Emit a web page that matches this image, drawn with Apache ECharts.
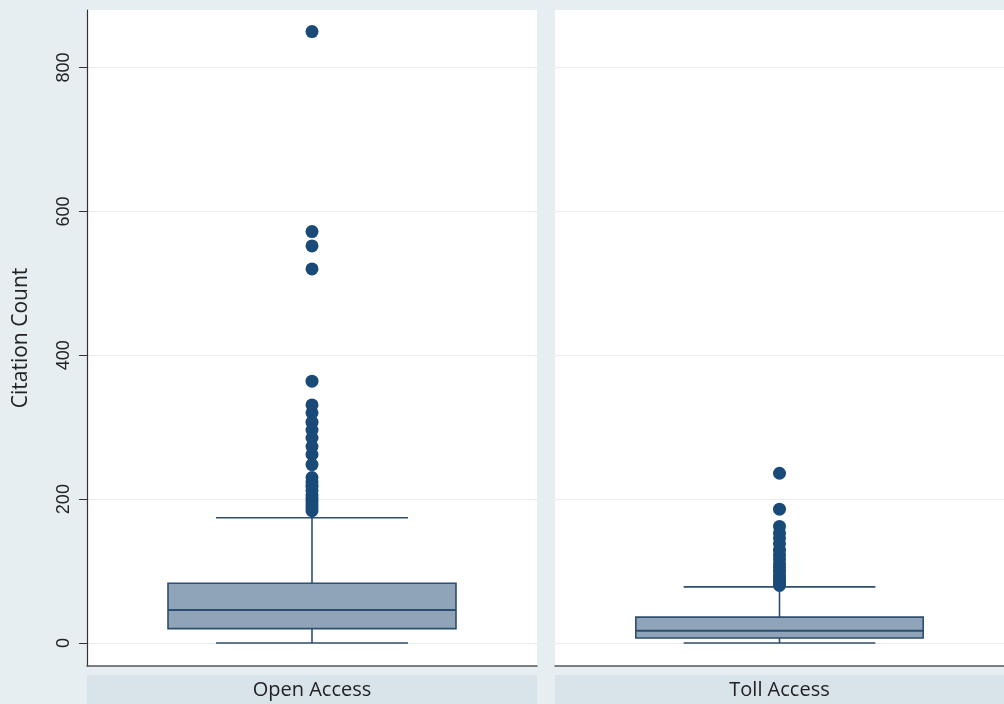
<!DOCTYPE html>
<html>
<head>
<meta charset="utf-8">
<script src="https://cdn.jsdelivr.net/npm/echarts@6/dist/echarts.min.js"></script>
<style>
  html, body { margin: 0; padding: 0; background: #e7eef1; }
  #chart { width: 1004px; height: 704px; }
</style>
</head>
<body>
<div id="chart"></div>
<script>
// categories (one per panel)
const categories = ['Open Access', 'Toll Access']
// box stats: [lower whisker, Q1, median, Q3, upper whisker]
const openBox = [0, 20, 46, 83, 174]
const tollBox = [0, 7, 17, 36, 78]
// outliers
const openOutliers = [850, 572, 552, 520, 364, 331, 320, 307, 296, 285, 273, 262, 248,
  230, 224, 218, 212, 206, 201, 196, 192, 188, 184]
const tollOutliers = [236, 186, 162, 153, 146, 138, 129, 122, 116, 110, 105, 100,
  95, 91, 87, 83, 80]
const yTicks = [0, 200, 400, 600, 800]

const boxFill = '#8fa4b9'
const boxLine = '#2d4e6e'
const dotColor = '#1a4a78'
const font = 'Liberation Sans'

const chart = echarts.init(document.getElementById('chart'))

// draws box, median, whiskers and shorter caps through the axis scales
const renderBox = (params, api) => {
  const x = api.value(0)
  const band = api.size([1, 0])[0]
  const boxW = band * 0.64
  const capW = boxW * 0.667
  const pMin = api.coord([x, api.value(1)])
  const pQ1 = api.coord([x, api.value(2)])
  const pMed = api.coord([x, api.value(3)])
  const pQ3 = api.coord([x, api.value(4)])
  const pMax = api.coord([x, api.value(5)])
  const cx = pMed[0]
  const lineStyle = { stroke: boxLine, lineWidth: 1.6 }
  return {
    type: 'group',
    children: [
      { type: 'line', shape: { x1: cx, y1: pQ3[1], x2: cx, y2: pMax[1] }, style: lineStyle },
      { type: 'line', shape: { x1: cx, y1: pQ1[1], x2: cx, y2: pMin[1] }, style: lineStyle },
      { type: 'line', shape: { x1: cx - capW / 2, y1: pMax[1], x2: cx + capW / 2, y2: pMax[1] }, style: lineStyle },
      { type: 'line', shape: { x1: cx - capW / 2, y1: pMin[1], x2: cx + capW / 2, y2: pMin[1] }, style: lineStyle },
      {
        type: 'rect',
        shape: { x: cx - boxW / 2, y: pQ3[1], width: boxW, height: pQ1[1] - pQ3[1] },
        style: { fill: boxFill, stroke: boxLine, lineWidth: 1.6 }
      },
      { type: 'line', shape: { x1: cx - boxW / 2, y1: pMed[1], x2: cx + boxW / 2, y2: pMed[1] }, style: { stroke: boxLine, lineWidth: 2 } }
    ]
  }
}

const makeY = (idx, showAxis) => ({
  type: 'value',
  gridIndex: idx,
  min: -32,
  max: 880,
  name: showAxis ? 'Citation Count' : '',
  nameLocation: 'middle',
  nameGap: 55,
  nameTextStyle: { fontFamily: 'Open Sans', fontSize: 21, color: '#222' },
  axisLine: { show: showAxis, lineStyle: { color: '#333', width: 1.2 } },
  axisTick: { show: showAxis, length: 8, customValues: yTicks, lineStyle: { color: '#333' } },
  axisLabel: {
    show: showAxis, rotate: 90, margin: 14, customValues: yTicks,
    fontFamily: font, fontSize: 18, color: '#222'
  },
  splitLine: { show: true, showMinLine: true, showMaxLine: true, lineStyle: { color: '#ebebeb', width: 1.2 } }
})

const makeX = (idx) => ({
  type: 'category',
  gridIndex: idx,
  data: [categories[idx]],
  axisLine: { show: true, onZero: false, lineStyle: { color: '#555', width: 1.5 } },
  axisTick: { show: false },
  axisLabel: { margin: 14, fontFamily: 'Open Sans', fontSize: 20, color: '#222' }
})

const options = {
  backgroundColor: '#e7eef1',
  animation: false,
  grid: [
    { left: 87, right: 467, top: 10, bottom: 38, show: true, backgroundColor: '#fff', borderWidth: 0 },
    { left: 555, right: 0, top: 10, bottom: 38, show: true, backgroundColor: '#fff', borderWidth: 0 }
  ],
  // label strips under the panels
  graphic: [
    { type: 'rect', z: -1, shape: { x: 87, y: 675, width: 450, height: 29 }, style: { fill: '#d9e4ea' } },
    { type: 'rect', z: -1, shape: { x: 555, y: 675, width: 449, height: 29 }, style: { fill: '#d9e4ea' } }
  ],
  xAxis: [makeX(0), makeX(1)],
  yAxis: [makeY(0, true), makeY(1, false)],
  series: [
    {
      type: 'custom',
      xAxisIndex: 0, yAxisIndex: 0,
      renderItem: renderBox,
      encode: { x: 0, y: [1, 2, 3, 4, 5] },
      data: [[0, ...openBox]]
    },
    {
      type: 'custom',
      xAxisIndex: 1, yAxisIndex: 1,
      renderItem: renderBox,
      encode: { x: 0, y: [1, 2, 3, 4, 5] },
      data: [[0, ...tollBox]]
    },
    {
      type: 'scatter',
      xAxisIndex: 0, yAxisIndex: 0,
      symbolSize: 13,
      itemStyle: { color: dotColor, opacity: 1 },
      data: openOutliers.map(v => [0, v])
    },
    {
      type: 'scatter',
      xAxisIndex: 1, yAxisIndex: 1,
      symbolSize: 13,
      itemStyle: { color: dotColor, opacity: 1 },
      data: tollOutliers.map(v => [0, v])
    }
  ]
}

chart.setOption(options)
</script>
</body>
</html>
